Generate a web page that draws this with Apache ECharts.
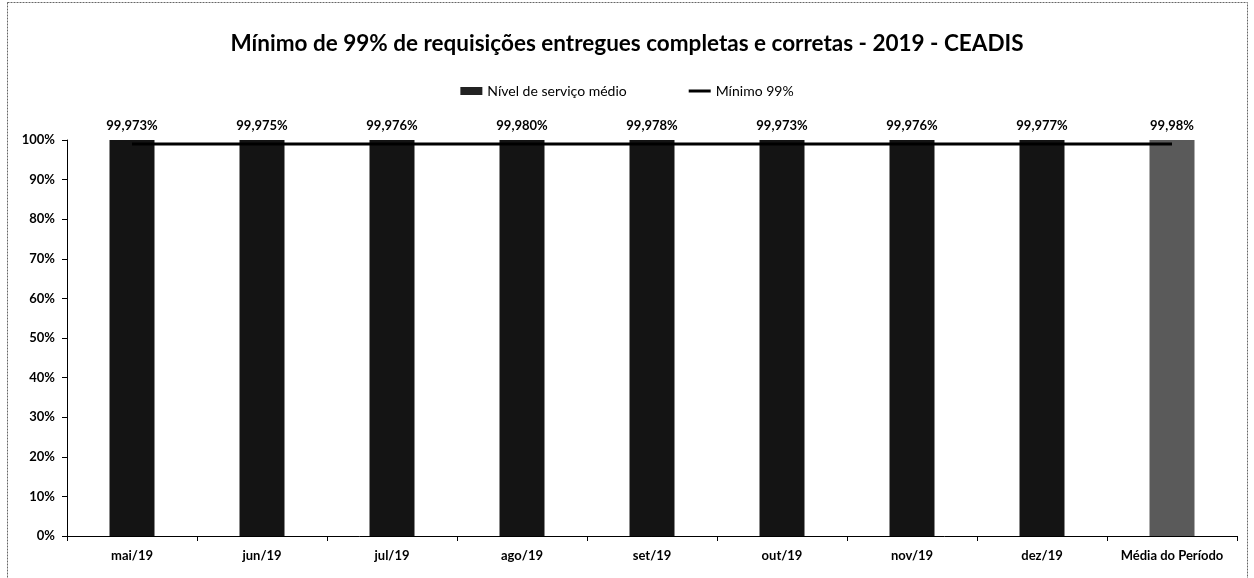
<!DOCTYPE html>
<html>
<head>
<meta charset="utf-8">
<script src="https://cdn.jsdelivr.net/npm/echarts@6/dist/echarts.min.js"></script>
<style>
html,body{margin:0;padding:0;background:#fff;}
#chart{width:1254px;height:578px;}
</style>
</head>
<body>
<div id="chart"></div>
<script>
const categories = ['mai/19','jun/19','jul/19','ago/19','set/19','out/19','nov/19','dez/19','Média do Período'];
const serviceLevel = [99.973, 99.975, 99.976, 99.980, 99.978, 99.973, 99.976, 99.977, 99.98];
const labelDecimals = [3, 3, 3, 3, 3, 3, 3, 3, 2];
const minimum = [99, 99, 99, 99, 99, 99, 99, 99, 99];
const yTicks = { min: 0, max: 100, interval: 10 };

const FONT = 'Lato';
const chart = echarts.init(document.getElementById('chart'));
chart.setOption({
  animation: false,
  backgroundColor: '#fff',
  title: {
    text: 'Mínimo de 99% de requisições entregues completas e corretas - 2019 - CEADIS',
    left: 'center', top: 27,
    textStyle: { fontFamily: FONT, fontWeight: 'bold', fontSize: 22.5, color: '#000' }
  },
  legend: {
    top: 79, left: 'center', itemGap: 62,
    textStyle: { fontFamily: FONT, fontSize: 14, color: '#000' },
    data: [
      { name: 'Nível de serviço médio', icon: 'rect', itemStyle: { color: '#222' } },
      { name: 'Mínimo 99%', icon: 'path://M0,0 H22 V3 H0 Z', itemStyle: { color: '#000' } }
    ],
    itemWidth: 22, itemHeight: 8
  },
  grid: { left: 67, right: 17, top: 140, bottom: 42 },
  xAxis: {
    type: 'category',
    data: categories,
    axisLine: { lineStyle: { color: '#000', width: 1 } },
    axisTick: { show: true, length: 5, interval: 0, lineStyle: { color: '#000' } },
    axisLabel: { interval: 0, fontFamily: FONT, fontWeight: 'bold', fontSize: 13, color: '#000', margin: 13 }
  },
  yAxis: {
    type: 'value',
    min: yTicks.min, max: yTicks.max, interval: yTicks.interval,
    splitLine: { show: false },
    axisLine: { show: true, lineStyle: { color: '#000', width: 1 } },
    axisTick: { show: true, length: 5, lineStyle: { color: '#000' } },
    axisLabel: { formatter: '{value}%', fontFamily: FONT, fontWeight: 'bold', fontSize: 13, color: '#000', margin: 12 }
  },
  series: [
    {
      name: 'Nível de serviço médio',
      type: 'bar',
      barWidth: 45,
      data: serviceLevel.map((v, i) => ({
        value: v,
        itemStyle: { color: i === serviceLevel.length - 1 ? '#5a5a5a' : '#141414' }
      })),
      label: {
        show: true, position: 'top', distance: 8,
        fontFamily: FONT, fontWeight: 'bold', fontSize: 13, color: '#000',
        formatter: p => p.value.toFixed(labelDecimals[p.dataIndex]).replace('.', ',') + '%'
      },
      z: 2
    },
    {
      name: 'Mínimo 99%',
      type: 'line',
      data: minimum,
      symbol: 'none',
      lineStyle: { color: '#000', width: 3 },
      itemStyle: { color: '#000' },
      z: 3
    }
  ],
  graphic: [
    { type: 'rect', shape: { x: 7.5, y: 2.5, width: 1240, height: 600 },
      style: { fill: 'none', stroke: '#666', lineWidth: 1, lineDash: [2, 1] }, silent: true }
  ]
});
</script>
</body>
</html>
